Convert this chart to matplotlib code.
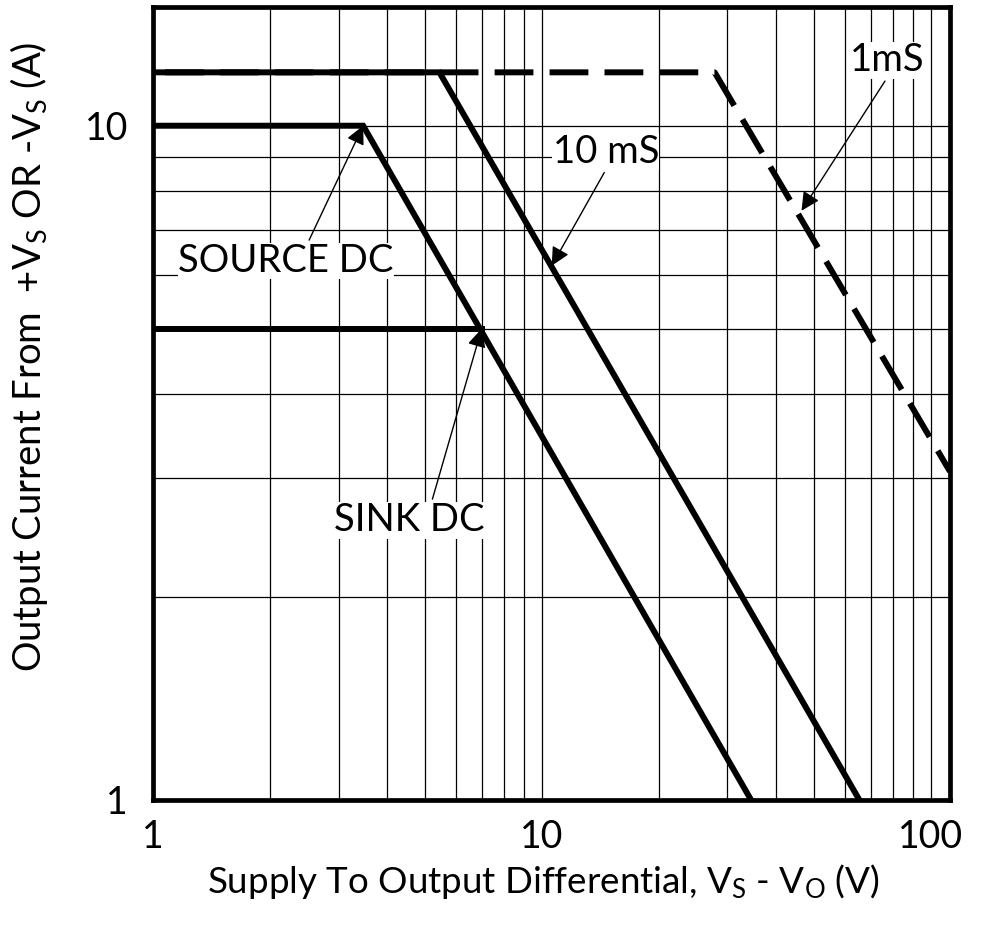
import matplotlib
matplotlib.use("Agg")
import matplotlib.pyplot as plt

plt.rcParams['font.family'] = ['Lato', 'DejaVu Sans']
plt.rcParams['mathtext.fontset'] = 'custom'
plt.rcParams['mathtext.rm'] = 'Lato'
plt.rcParams['mathtext.it'] = 'Lato'

# safe operating area curves (V, A)
v_1ms = [1, 27.8, 112]
i_1ms = [12, 12, 3.07]
v_10ms = [1, 5.45, 65.5]
i_10ms = [12, 12, 1]
v_source = [1, 3.47, 34.5]
i_source = [10, 10, 1]
v_sink = [1, 7.0]
i_sink = [5, 5]

x_ticks = [1, 10, 100]
x_ticklabels = ['1', '10', '100']
y_ticks = [1, 10]
y_ticklabels = ['1', '10']

fig = plt.figure(figsize=(9.85, 9.34), dpi=100)
ax = fig.add_axes([153/985, 1-800/934, 797/985, 793/934])
ax.set_xscale('log')
ax.set_yscale('log')
ax.set_xlim(1, 112)
ax.set_ylim(1, 15)

ax.grid(True, which='both', color='black', lw=0.9)
ax.set_axisbelow(True)

lw = 4.3
ax.plot(v_1ms, i_1ms, color='black', lw=lw, ls=(7.2, (6.5, 2.7)))
ax.plot(v_10ms, i_10ms, color='black', lw=lw, solid_joinstyle='miter')
ax.plot(v_source, i_source, color='black', lw=lw, solid_joinstyle='miter')
ax.plot(v_sink, i_sink, color='black', lw=lw)

ax.set_xticks(x_ticks)
ax.set_xticklabels(x_ticklabels)
ax.set_yticks(y_ticks)
ax.set_yticklabels(y_ticklabels)
ax.xaxis.set_minor_formatter(matplotlib.ticker.NullFormatter())
ax.yaxis.set_minor_formatter(matplotlib.ticker.NullFormatter())
ax.tick_params(which='both', length=0, labelsize=27)
ax.tick_params(axis='x', pad=14)
ax.tick_params(axis='y', pad=18)

for s in ax.spines.values():
    s.set_linewidth(3.4)

ax.set_xlabel(r'Supply To Output Differential, V$_\mathregular{S}$ - V$_\mathregular{O}$ (V)',
              fontsize=26.5, va='center')
ax.xaxis.set_label_coords(0.49, -0.103)
ax.set_ylabel(r'Output Current From  +V$_\mathregular{S}$ OR -V$_\mathregular{S}$ (A)',
              fontsize=27.5, va='center')
ax.yaxis.set_label_coords(-0.156, 0.559)

box = dict(fc='white', ec='none', pad=0.25)
arrow = dict(arrowstyle='-|>', color='black', lw=1, mutation_scale=28, shrinkB=0)

ax.annotate('SOURCE DC', xy=(3.47, 10), xytext=(2.2, 6.3), fontsize=27.5,
            ha='center', va='center', bbox=box,
            arrowprops=dict(arrow, relpos=(0.6, 1)))
ax.annotate('SINK DC', xy=(7.0, 5), xytext=(4.55, 2.6), fontsize=27.5,
            ha='center', va='center', bbox=box,
            arrowprops=dict(arrow, relpos=(0.65, 1)))
ax.annotate('10 mS', xy=(10.6, 6.2), xytext=(14.6, 9.15), fontsize=27.5,
            ha='center', va='center', bbox=box,
            arrowprops=dict(arrow, relpos=(0.5, 0)))
ax.annotate('1mS', xy=(46.5, 7.48), xytext=(77, 12.5), fontsize=27.5,
            ha='center', va='center', bbox=box,
            arrowprops=dict(arrow, relpos=(0.5, 0)))

fig.savefig('out.png', dpi=100)
